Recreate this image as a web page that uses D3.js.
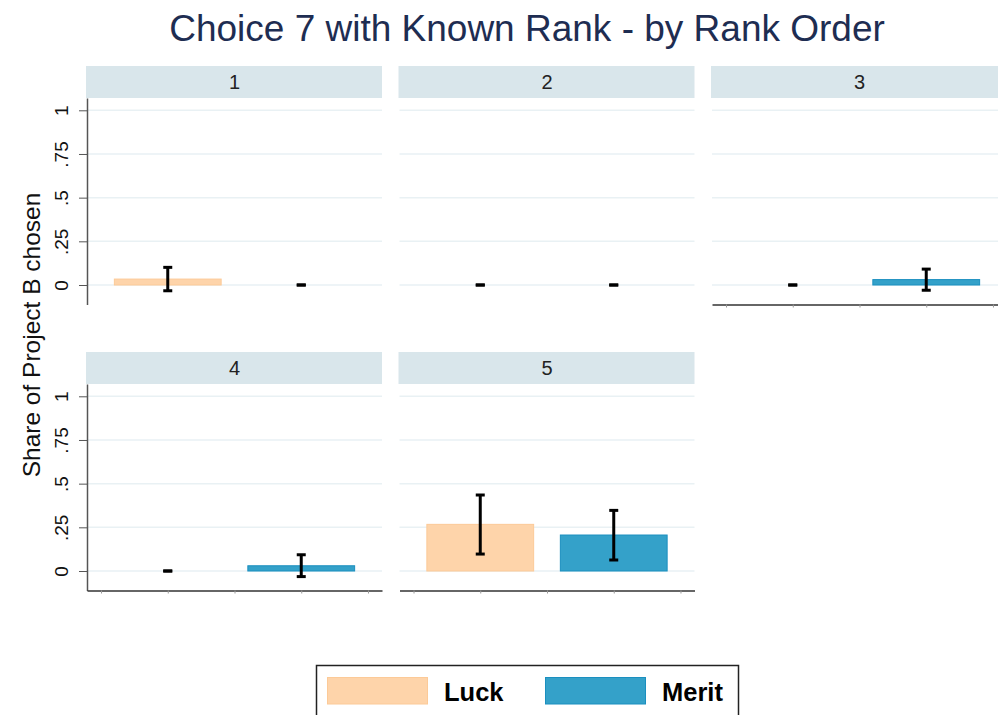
<!DOCTYPE html>
<html>
<head>
<meta charset="utf-8">
<script src="https://cdn.jsdelivr.net/npm/d3@7"></script>
<style>
  body { margin: 0; background: #fff; }
  svg { display: block; font-family: "Liberation Sans", Arial, sans-serif; }
</style>
</head>
<body>
<svg id="chart" width="998" height="715"></svg>
<script>
// data
let ranks = ['1', '2', '3', '4', '5'];
let groups = ['Luck', 'Merit'];
let luck_mean = [0.034, 0, 0, 0, 0.267];
let luck_lo = [-0.033, 0, 0, 0, 0.097];
let luck_hi = [0.101, 0, 0, 0, 0.435];
let merit_mean = [0, 0, 0.031, 0.030, 0.206];
let merit_lo = [0, 0, -0.030, -0.032, 0.063];
let merit_hi = [0, 0, 0.091, 0.093, 0.347];
let y_ticks = [0, 0.25, 0.5, 0.75, 1];
let y_tick_labels = ['0', '.25', '.5', '.75', '1'];
let x_ticks = [1, 2, 3, 4, 5];

let colors = { Luck: '#fed4aa', Merit: '#34a1c9' };
let strokes = { Luck: '#fcca98', Merit: '#1b8fbf' };

let svg = d3.select('#chart');

/*
 * Layout of the facets.
 */
let col_left = [87, 399.5, 712];
let row_top = [66, 352];
let panel_w = 295;
let strip_h = 32;
let plot_h = 206.5;

let x = d3.scaleLinear().domain([0.79, 5.21]).range([0, panel_w]);
let y = d3.scaleLinear().domain([-0.1116, 1.0704]).range([plot_h, 0]);

svg.append('text')
  .attr('x', 527)
  .attr('y', 41)
  .attr('text-anchor', 'middle')
  .style('font-size', '37px')
  .style('fill', '#1e2d52')
  .text('Choice 7 with Known Rank - by Rank Order');

svg.append('text')
  .attr('transform', 'translate(40,335) rotate(-90)')
  .attr('text-anchor', 'middle')
  .style('font-size', '24.5px')
  .style('fill', '#111')
  .text('Share of Project B chosen');

for (let p = 0; p < ranks.length; p++) {
  let col = p % 3;
  let row = Math.floor(p / 3);
  let left = col_left[col];
  let top = row_top[row];

  let g = svg.append('g').attr('transform', 'translate(' + left + ',' + (top + strip_h) + ')');

  // strip with the rank
  svg.append('rect')
    .attr('x', left - 1)
    .attr('y', top)
    .attr('width', panel_w + 1)
    .attr('height', strip_h)
    .style('fill', '#d9e6eb');
  svg.append('text')
    .attr('x', left + panel_w / 2)
    .attr('y', top + 23)
    .attr('text-anchor', 'middle')
    .style('font-size', '20px')
    .style('fill', '#222')
    .text(ranks[p]);

  // grid lines
  g.selectAll('.grid')
    .data(y_ticks)
    .enter().append('line')
    .attr('x1', 0)
    .attr('x2', panel_w)
    .attr('y1', d => y(d))
    .attr('y2', d => y(d))
    .style('stroke', '#e9f1f4')
    .style('stroke-width', 1.5);

  let rows = [
    { grp: 'Luck', pos: 2, m: luck_mean[p], lo: luck_lo[p], hi: luck_hi[p] },
    { grp: 'Merit', pos: 4, m: merit_mean[p], lo: merit_lo[p], hi: merit_hi[p] },
  ];

  // bars
  g.selectAll('.bar')
    .data(rows.filter(d => d.m > 0))
    .enter().append('rect')
    .attr('x', d => x(d.pos - 0.8))
    .attr('width', d => x(d.pos + 0.8) - x(d.pos - 0.8))
    .attr('y', d => y(d.m))
    .attr('height', d => y(0) - y(d.m))
    .style('fill', d => colors[d.grp])
    .style('stroke', d => strokes[d.grp])
    .style('stroke-width', 1);

  // error bars
  rows.forEach(d => {
    let cx = x(d.pos);
    g.append('line')
      .attr('x1', cx).attr('x2', cx)
      .attr('y1', y(d.hi)).attr('y2', y(d.lo))
      .style('stroke', '#000').style('stroke-width', 3);
    [d.lo, d.hi].forEach(v => {
      g.append('line')
        .attr('x1', cx - 4.5).attr('x2', cx + 4.5)
        .attr('y1', y(v)).attr('y2', y(v))
        .style('stroke', '#000').style('stroke-width', 3);
    });
  });

  // y axis on the first column
  if (col == 0) {
    let ax = g.append('g')
      .call(d3.axisLeft(y).tickValues(y_ticks)
        .tickFormat((d, i) => y_tick_labels[i])
        .tickSize(8).tickSizeOuter(0).tickPadding(0));
    ax.select('.domain').style('stroke', '#555').style('stroke-width', 1.5);
    ax.selectAll('.tick line').style('stroke', '#555').style('stroke-width', 1);
    ax.selectAll('.tick text')
      .attr('transform', 'rotate(-90)')
      .attr('x', 0)
      .attr('y', -19)
      .attr('dy', 0)
      .attr('text-anchor', 'middle')
      .style('font-size', '19px')
      .style('font-family', '"Liberation Sans", Arial, sans-serif')
      .style('fill', '#111');
  }

  // x axis where nothing stands below
  if (row == 1 || col == 2) {
    let ax = g.append('g')
      .attr('transform', 'translate(0,' + plot_h + ')')
      .call(d3.axisBottom(x).tickValues(x_ticks).tickFormat('').tickSize(3).tickSizeOuter(0));
    ax.select('.domain').style('stroke', '#333').style('stroke-width', 1.5);
    ax.selectAll('.tick line').style('stroke', '#999');
  }
}

/*
 * Legend.
 */
let leg = svg.append('g');
leg.append('rect')
  .attr('x', 316.5)
  .attr('y', 665.5)
  .attr('width', 422)
  .attr('height', 70)
  .style('fill', '#fff')
  .style('stroke', '#222')
  .style('stroke-width', 1.5);

let leg_x = [327.5, 545.5];
let text_x = [444, 662];
groups.forEach((grp, i) => {
  leg.append('rect')
    .attr('x', leg_x[i])
    .attr('y', 677.5)
    .attr('width', 100)
    .attr('height', 26.5)
    .style('fill', colors[grp])
    .style('stroke', strokes[grp]);
  leg.append('text')
    .attr('x', text_x[i])
    .attr('y', 701)
    .style('font-size', '25.5px')
    .style('font-weight', 'bold')
    .style('fill', '#000')
    .text(grp);
});
</script>
</body>
</html>
